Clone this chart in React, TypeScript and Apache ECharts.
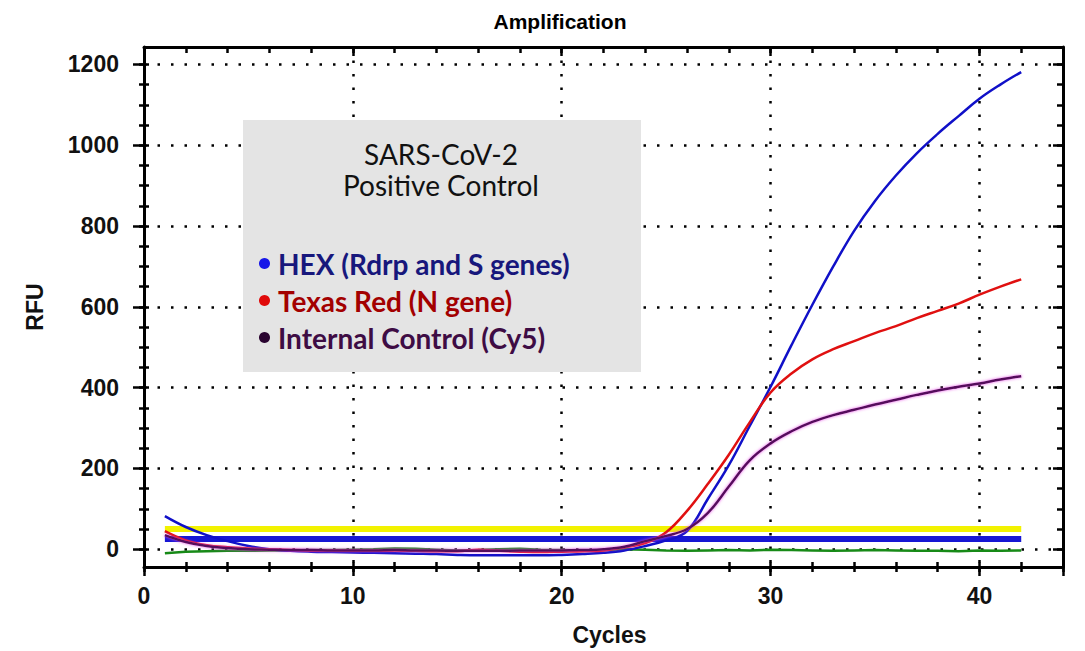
import React, { useEffect, useRef } from 'react';
import * as echarts from 'echarts';

// ---------- data ----------
const cycles = [1, 2, 3, 4, 5, 6, 7, 8, 9, 10, 11, 12, 13, 14, 15, 16, 17, 18, 19, 20, 21, 22, 23, 24, 25, 26, 27, 28, 29, 30, 31, 32, 33, 34, 35, 36, 37, 38, 39, 40, 41, 42];
const hexRdrpS = [82, 55, 35, 20, 8, 0, -4, -6, -7, -8, -9, -10, -11, -12, -14, -15, -15, -15, -15, -14, -12, -9, -3, 8, 22, 45, 125, 208, 305, 402, 505, 605, 700, 788, 862, 925, 980, 1028, 1072, 1115, 1150, 1181];
const texasRedN = [45, 22, 10, 5, 2, 0, -2, -3, -3, -4, -4, -3, -4, -5, -5, -1, -4, -6, -7, -6, -5, -3, 5, 15, 42, 95, 162, 234, 314, 388, 435, 470, 495, 515, 535, 552, 572, 590, 608, 630, 650, 668];
const internalControlCy5 = [35, 18, 8, 3, 0, -1, -2, -2, -3, -3, -3, -2, -3, -3, -4, -4, -4, -3, -3, -3, -2, 0, 6, 20, 33, 50, 90, 155, 220, 262, 292, 315, 332, 345, 358, 370, 382, 393, 402, 410, 420, 428];
const greenBaseline = [-10, -6, -5, -4, -4, -3, -3, -2, -2, -1, 0, 2, 1, -1, -3, -2, 0, 1, -1, -2, -3, -2, 0, -1, -3, -4, -3, -2, -3, -1, -2, -3, -4, -3, -2, -3, -4, -4, -5, -3, -4, -3];
const thresholdCycles = [1, 42];
const yellowThreshold = [50, 50];
const blueThreshold = [25, 25];

const yLabelValues = [0, 200, 400, 600, 800, 1000, 1200];
const yMinorTickValues = [0, 50, 100, 150, 200, 250, 300, 350, 400, 450, 500, 550, 600, 650, 700, 750, 800, 850, 900, 950, 1000, 1050, 1100, 1150, 1200];
const xLabelValues = [0, 10, 20, 30, 40];

const seriesNames = ['HEX (Rdrp and S genes)', 'Texas Red (N gene)', 'Internal Control (Cy5)'];
const boxTitleLines = ['SARS-CoV-2', 'Positive Control'];

const X_MIN = 0;
const X_MAX = 44;
const Y_MIN = -44;
const Y_MAX = 1243;

const pair = (xs: number[], ys: number[]) => xs.map((x, i) => [x, ys[i]]);

export default function App() {
  const ref = useRef<HTMLDivElement>(null);

  useEffect(() => {
    if (!ref.current) return;
    const chart = echarts.init(ref.current, undefined, { renderer: 'svg' });

    const labelFont = { fontFamily: 'Liberation Sans, Arial, sans-serif', fontWeight: 'bold' as const, color: '#111', fontSize: 23 };
    const black = '#000';
    const hidden = { show: false };

    const xBase = { type: 'value' as const, min: X_MIN, max: X_MAX, gridIndex: 0 };
    const yBase = { type: 'value' as const, min: Y_MIN, max: Y_MAX, gridIndex: 0 };

    chart.setOption({
      animation: false,
      backgroundColor: '#fff',
      title: {
        text: 'Amplification',
        left: 555,
        top: 6,
        textAlign: 'center',
        textStyle: { fontFamily: 'Liberation Sans, Arial, sans-serif', fontWeight: 'bold', fontSize: 21, color: '#000' },
      },
      grid: { left: 144, right: 22, top: 47, bottom: 83, containLabel: false },
      xAxis: [
        {
          ...xBase, position: 'bottom', interval: 2,
          axisLine: { show: true, onZero: false, lineStyle: { color: black, width: 3 } },
          axisTick: { show: true, inside: false, length: 5, lineStyle: { color: black, width: 2.5 } },
          axisLabel: {
            ...labelFont, margin: 17,
            formatter: (v: number) => (xLabelValues.includes(v) ? String(v) : ''),
          },
          splitLine: hidden,
          name: 'Cycles', nameLocation: 'middle', nameGap: 56,
          nameTextStyle: { ...labelFont, fontSize: 23, padding: [0, 0, 0, 12] },
        },
        {
          ...xBase, position: 'bottom', interval: 2,
          axisLine: { show: false, onZero: false },
          axisTick: { show: true, inside: true, length: 5, lineStyle: { color: black, width: 2.5 } },
          axisLabel: hidden, splitLine: hidden,
        },
        {
          ...xBase, position: 'bottom', interval: 10,
          axisLine: { show: false, onZero: false },
          axisTick: { show: true, inside: false, length: 9, lineStyle: { color: black, width: 2.5 } },
          axisLabel: hidden,
          splitLine: { show: true, lineStyle: { color: black, width: 2.5, type: [2.5, 11] } },
        },
        {
          ...xBase, position: 'top', interval: 2,
          axisLine: { show: true, onZero: false, lineStyle: { color: black, width: 3 } },
          axisTick: { show: true, inside: true, length: 6, lineStyle: { color: black, width: 2.5 } },
          axisLabel: hidden, splitLine: hidden,
        },
        {
          ...xBase, position: 'top', interval: 10,
          axisLine: { show: false, onZero: false },
          axisTick: { show: true, inside: true, length: 9, lineStyle: { color: black, width: 2.5 } },
          axisLabel: hidden, splitLine: hidden,
        },
      ],
      yAxis: [
        {
          ...yBase, position: 'left',
          axisLine: { show: true, onZero: false, lineStyle: { color: black, width: 3 } },
          axisTick: { show: true, inside: false, length: 5, customValues: yMinorTickValues, lineStyle: { color: black, width: 2.5 } },
          axisLabel: { ...labelFont, margin: 25, customValues: yLabelValues, formatter: (v: number) => String(v) },
          splitLine: hidden,
          name: 'RFU', nameLocation: 'middle', nameGap: 98, nameRotate: 90,
          nameTextStyle: { ...labelFont, fontSize: 23 },
        },
        {
          ...yBase, position: 'left',
          axisLine: { show: false, onZero: false },
          axisTick: { show: true, inside: true, length: 5, customValues: yMinorTickValues, lineStyle: { color: black, width: 2.5 } },
          axisLabel: hidden, splitLine: hidden,
        },
        {
          ...yBase, position: 'left',
          axisLine: { show: false, onZero: false },
          axisTick: { show: true, inside: false, length: 11, customValues: yLabelValues, lineStyle: { color: black, width: 2.5 } },
          axisLabel: hidden, splitLine: hidden,
        },
        {
          ...yBase, position: 'right',
          axisLine: { show: true, onZero: false, lineStyle: { color: black, width: 3 } },
          axisTick: { show: true, inside: true, length: 6, customValues: yMinorTickValues, lineStyle: { color: black, width: 2.5 } },
          axisLabel: hidden, splitLine: hidden,
        },
        {
          ...yBase, position: 'right',
          axisLine: { show: false, onZero: false },
          axisTick: { show: true, inside: true, length: 10, customValues: yLabelValues, lineStyle: { color: black, width: 2.5 } },
          axisLabel: hidden, splitLine: hidden,
        },
      ],
      legend: {
        orient: 'vertical',
        left: 254,
        top: 244,
        itemWidth: 11,
        itemHeight: 11,
        itemGap: 8,
        icon: 'circle',
        selectedMode: false,
        z: 6,
        textStyle: { fontFamily: 'Lato, sans-serif', fontWeight: 'bold', fontSize: 28, lineHeight: 29, padding: [0, 0, 0, 3] },
        data: [
          { name: seriesNames[0], itemStyle: { color: '#1616e8' }, textStyle: { color: '#17177c' } },
          { name: seriesNames[1], itemStyle: { color: '#e00a0a' }, textStyle: { color: '#a30000' } },
          { name: seriesNames[2], itemStyle: { color: '#2a0430' }, textStyle: { color: '#3e0c44' } },
        ],
      },
      graphic: [
        { type: 'rect', z: 5, shape: { x: 243, y: 120, width: 398, height: 252 }, style: { fill: '#e4e4e4' }, silent: true },
        { type: 'text', z: 6, x: 441, y: 154, style: { text: boxTitleLines[0], fill: '#111', font: '28px Lato, sans-serif', align: 'center', verticalAlign: 'middle' } },
        { type: 'text', z: 6, x: 441, y: 185, style: { text: boxTitleLines[1], fill: '#111', font: '28px Lato, sans-serif', align: 'center', verticalAlign: 'middle' } },
      ],
      series: [
        {
          name: 'Baseline', type: 'line', data: pair(cycles, greenBaseline), showSymbol: false, z: 2,
          lineStyle: { color: '#178a17', width: 2.5 }, itemStyle: { color: '#178a17' },
          markLine: {
            silent: true, symbol: ['none', 'none'], label: { show: false },
            lineStyle: { color: black, width: 2.5, type: [2.5, 11] },
            data: yLabelValues.map((v) => ({ yAxis: v })),
            z: 0,
          },
        },
        {
          name: 'Threshold 1', type: 'line', data: pair(thresholdCycles, yellowThreshold), showSymbol: false, z: 2,
          lineStyle: { color: '#f2f200', width: 6 }, itemStyle: { color: '#f2f200' },
        },
        {
          name: 'Threshold 2', type: 'line', data: pair(thresholdCycles, blueThreshold), showSymbol: false, z: 2,
          lineStyle: { color: '#1616d4', width: 6 }, itemStyle: { color: '#1616d4' },
        },
        {
          name: seriesNames[0], type: 'line', data: pair(cycles, hexRdrpS), showSymbol: false, smooth: 0.4, z: 3,
          lineStyle: { color: '#1010c8', width: 2.5 }, itemStyle: { color: '#1010c8' },
        },
        {
          name: seriesNames[1], type: 'line', data: pair(cycles, texasRedN), showSymbol: false, smooth: 0.4, z: 3,
          lineStyle: { color: '#e01010', width: 2.5 }, itemStyle: { color: '#e01010' },
        },
        {
          name: seriesNames[2], type: 'line', data: pair(cycles, internalControlCy5), showSymbol: false, smooth: 0.4, z: 3,
          lineStyle: { color: '#55105c', width: 2.5, shadowColor: 'rgba(230,70,230,0.9)', shadowBlur: 3 },
          itemStyle: { color: '#55105c' },
        },
      ],
    });

    return () => chart.dispose();
  }, []);

  return <div ref={ref} style={{ position: 'absolute', left: 0, top: 0, width: 1085, height: 651 }} />;
}
